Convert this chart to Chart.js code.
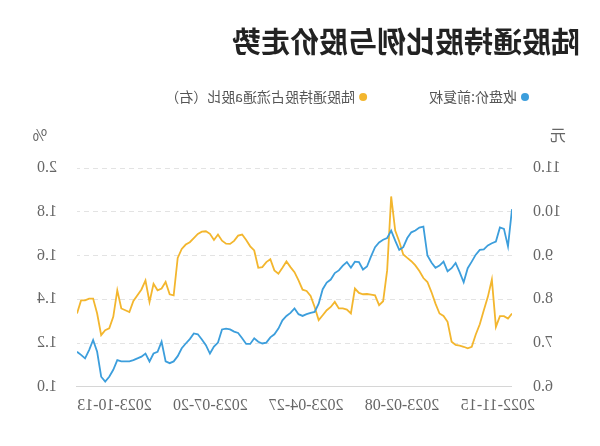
<!DOCTYPE html>
<html>
<head>
<meta charset="utf-8">
<script src="https://cdn.jsdelivr.net/npm/chart.js@4"></script>
<style>
  html, body { margin: 0; padding: 0; background: #fff; }
  /* the reference picture is a mirror image, so the whole chart is flipped */
  #wrap { width: 600px; height: 446px; transform: scaleX(-1); }
</style>
</head>
<body>
<div id="wrap"><canvas id="chart" width="600" height="446"></canvas></div>
<script>
const chartTitle = '陆股通持股比例与股价走势';
const seriesNames = ['收盘价:前复权', '陆股通持股占流通a股比（右）'];
const seriesColors = ['#3c9edc', '#f3b62e'];
const unitLeft = '元';
const unitRight = '%';

// 收盘价 (元), one value every ~2 trading days
const closePrice = [
  10.06, 9.21, 9.61, 9.64, 9.32, 9.28, 9.23, 9.14, 9.13, 9.02,
  8.86, 8.71, 8.39, 8.62, 8.83, 8.71, 8.64, 8.86, 8.77, 8.72,
  8.84, 9.00, 9.66, 9.64, 9.57, 9.53, 9.40, 9.19, 9.13, 9.34,
  9.57, 9.40, 9.36, 9.30, 9.19, 8.98, 8.75, 8.68, 8.85, 8.86,
  8.72, 8.85, 8.77, 8.66, 8.60, 8.45, 8.38, 8.23, 7.90, 7.71,
  7.69, 7.66, 7.62, 7.66, 7.79, 7.69, 7.62, 7.52, 7.33, 7.20,
  7.13, 7.01, 6.99, 7.03, 7.11, 6.98, 6.98, 7.11, 7.23, 7.26,
  7.31, 7.33, 7.31, 7.01, 6.92, 6.76, 6.95, 7.08, 7.20, 7.22,
  7.09, 6.99, 6.88, 6.70, 6.58, 6.54, 6.58, 7.03, 6.80, 6.76,
  6.58, 6.76, 6.69, 6.65, 6.61, 6.58, 6.58, 6.58, 6.61, 6.39,
  6.23, 6.12, 6.23, 6.80, 7.07, 6.84, 6.65, 6.73, 6.80
];

// 陆股通持股占流通a股比 (%)
const holdRatio = [
  1.335, 1.312, 1.323, 1.323, 1.274, 1.490, 1.411, 1.350, 1.286, 1.239,
  1.183, 1.176, 1.183, 1.188, 1.191, 1.206, 1.297, 1.324, 1.335, 1.380,
  1.433, 1.479, 1.497, 1.529, 1.555, 1.574, 1.589, 1.605, 1.664, 1.714,
  1.870, 1.532, 1.391, 1.373, 1.418, 1.421, 1.424, 1.423, 1.429, 1.449,
  1.335, 1.353, 1.358, 1.358, 1.388, 1.365, 1.350, 1.327, 1.305, 1.365,
  1.415, 1.438, 1.444, 1.486, 1.524, 1.547, 1.573, 1.544, 1.517, 1.532,
  1.583, 1.570, 1.547, 1.544, 1.623, 1.642, 1.671, 1.696, 1.691, 1.667,
  1.653, 1.654, 1.668, 1.696, 1.671, 1.699, 1.711, 1.709, 1.699, 1.680,
  1.661, 1.650, 1.630, 1.589, 1.418, 1.423, 1.479, 1.449, 1.441, 1.471,
  1.388, 1.486, 1.445, 1.418, 1.392, 1.342, 1.350, 1.358, 1.441, 1.320,
  1.267, 1.259, 1.236, 1.335, 1.403, 1.403, 1.395, 1.395, 1.335
];

// date labels on the x axis and where they sit (point index)
const dateTickPos = [3.5, 27.3, 51.1, 74.9, 98.7];
const dateTickLabels = ['2022-11-15', '2023-02-08', '2023-04-27', '2023-07-20', '2023-10-13'];

const toPoints = (arr) => arr.map((v, i) => ({ x: i, y: v }));

const tickFont = { family: '"Liberation Serif", "Times New Roman", serif', size: 16 };
const tickColor = '#666';
const gridColor = '#e3e3e3';

// title, legend and axis units drawn straight onto the canvas
const decorPlugin = {
  id: 'decor',
  afterDraw(chart) {
    const ctx = chart.ctx;
    const { left, right, top } = chart.chartArea;
    ctx.save();

    ctx.fillStyle = '#222';
    ctx.font = 'bold 29px "Noto Sans CJK SC", sans-serif';
    ctx.textAlign = 'left';
    ctx.textBaseline = 'middle';
    ctx.fillText(chartTitle, 20, 42);

    ctx.font = '14px "Noto Sans CJK SC", sans-serif';
    let x = 71;
    chart.data.datasets.forEach(ds => {
      ctx.fillStyle = ds.borderColor;
      ctx.beginPath();
      ctx.arc(x + 4, 97, 4, 0, Math.PI * 2);
      ctx.fill();
      ctx.fillStyle = '#555';
      ctx.fillText(ds.label, x + 12, 97);
      x += 12 + ctx.measureText(ds.label).width + 62;
    });

    ctx.fillStyle = tickColor;
    ctx.font = '16px "Noto Sans CJK SC", sans-serif';
    ctx.textAlign = 'center';
    ctx.fillText(unitLeft, left - 46, top - 33);
    ctx.fillText(unitRight, right + 37, top - 33);
    ctx.restore();
  }
};

function draw() {
  new Chart(document.getElementById('chart'), {
    type: 'line',
    data: {
      datasets: [
        {
          label: seriesNames[0],
          data: toPoints(closePrice),
          yAxisID: 'y',
          borderColor: seriesColors[0],
          backgroundColor: seriesColors[0],
          borderWidth: 1.8,
          pointRadius: 0,
          tension: 0
        },
        {
          label: seriesNames[1],
          data: toPoints(holdRatio),
          yAxisID: 'y1',
          borderColor: seriesColors[1],
          backgroundColor: seriesColors[1],
          borderWidth: 1.8,
          pointRadius: 0,
          tension: 0
        }
      ]
    },
    options: {
      responsive: false,
      animation: false,
      layout: { padding: { top: 168, bottom: 22, left: 0, right: 0 } },
      plugins: {
        legend: { display: false },
        title: { display: false },
        tooltip: { enabled: false }
      },
      scales: {
        x: {
          type: 'linear',
          min: 0,
          max: closePrice.length - 1,
          grid: { display: false, drawTicks: false },
          border: { display: true, color: '#d6d6d6' },
          afterBuildTicks: (axis) => {
            axis.ticks = dateTickPos.map(v => ({ value: v }));
          },
          ticks: {
            autoSkip: false,
            maxRotation: 0,
            padding: 9,
            font: tickFont,
            color: tickColor,
            callback: (v, i) => dateTickLabels[i]
          }
        },
        y: {
          position: 'left',
          min: 6,
          max: 11,
          afterFit: (s) => { s.width = 88; },
          grid: { color: gridColor, drawTicks: false },
          border: { display: false, dash: [5, 4] },
          ticks: {
            stepSize: 1,
            padding: 21,
            font: tickFont,
            color: tickColor,
            callback: (v) => Number(v).toFixed(1)
          }
        },
        y1: {
          position: 'right',
          min: 1,
          max: 2,
          afterFit: (s) => { s.width = 77; },
          grid: { drawOnChartArea: false, drawTicks: false },
          border: { display: false },
          ticks: {
            stepSize: 0.2,
            padding: 20,
            font: tickFont,
            color: tickColor,
            callback: (v) => Number(v).toFixed(1)
          }
        }
      }
    },
    plugins: [decorPlugin]
  });
}

Promise.all([
  document.fonts.load('16px "Liberation Serif"'),
  document.fonts.load('bold 29px "Noto Sans CJK SC"'),
  document.fonts.load('14px "Noto Sans CJK SC"')
]).then(draw, draw);
</script>
</body>
</html>
